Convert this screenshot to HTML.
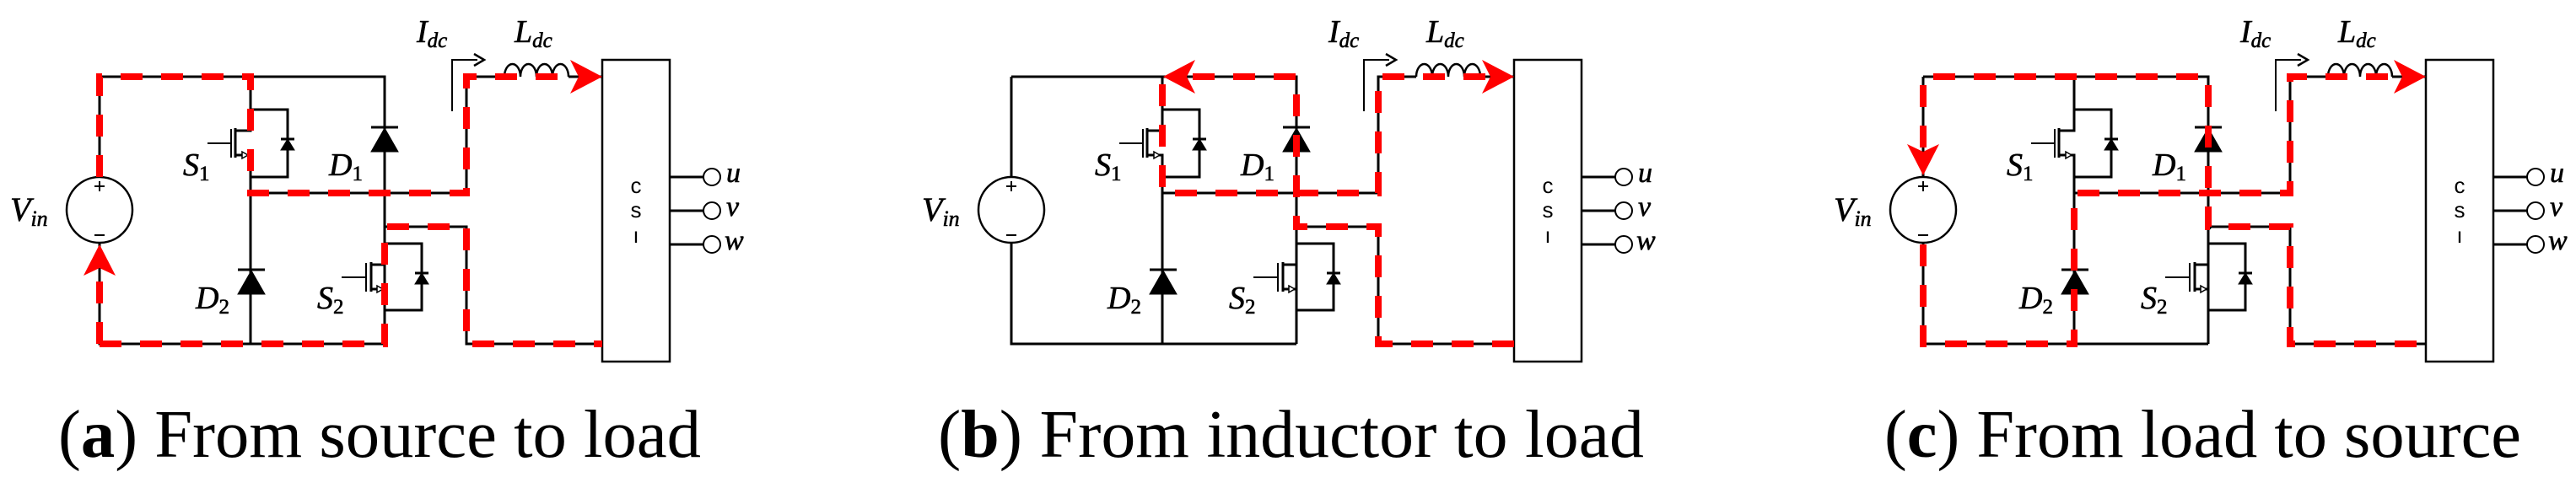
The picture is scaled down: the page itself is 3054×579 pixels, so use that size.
<!DOCTYPE html>
<html><head><meta charset="utf-8"><style>
html,body{margin:0;padding:0;background:#fff;}
svg{display:block;}
.t{font-family:"Liberation Serif",serif;font-style:italic;fill:#000;stroke:#000;stroke-width:0.6;}
.c{font-family:"Liberation Serif",serif;fill:#000;}
.s{font-family:"Liberation Sans",sans-serif;fill:#000;}
</style></head><body>
<svg width="3054" height="579" viewBox="0 0 3054 579" xmlns="http://www.w3.org/2000/svg">
<defs>
<g id="circ" fill="none" stroke="#000" stroke-width="3">
  <path d="M118 91 V210 M118 288 V408 H456"/>
  <ellipse cx="118" cy="249" rx="39" ry="39" stroke-width="2.5"/>
  <path d="M112 221 h12 M118 215 v12 M112 279 h12" stroke-width="2"/>
  <path d="M118 91 H456 V408"/>
  <path d="M297 91 V155 H279 M279 152 V187 M279 184 H297 V408"/>
  <path d="M274 153 V187 M246 170 H274" stroke-width="2"/>
  <path d="M287 180 l7 4 l-7 4 z" stroke-width="1.5" fill="#fff"/>
  <path d="M297 130 H341 V210 H297"/>
  <path d="M333 165 H349" />
  <path d="M341 165 L333 178 H349 Z" fill="#000" stroke-width="1"/>
  <path d="M440 151 H472"/>
  <path d="M456 152 L440 180 H472 Z" fill="#000" stroke-width="1"/>
  <path d="M282 320 H314"/>
  <path d="M298 321 L282 349 H314 Z" fill="#000" stroke-width="1"/>
  <path d="M297 229 H553 V91 H598 M674 91 H714"/>
  <path d="M456 269 H553 V408 H714"/>
  <path d="M456 269 V314 H440 M440 311 V346 M440 343 H456"/>
  <path d="M434 312 V346 M405 329 H434" stroke-width="2"/>
  <path d="M447 339 l7 4 l-7 4 z" stroke-width="1.5" fill="#fff"/>
  <path d="M456 289 H500 V368 H456"/>
  <path d="M492 324 H508"/>
  <path d="M500 324 L492 337 H508 Z" fill="#000" stroke-width="1"/>
  <path d="M598 91 a9.5 15 0 0 1 19 0 a9.5 15 0 0 1 19 0 a9.5 15 0 0 1 19 0 a9.5 15 0 0 1 19 0" stroke-width="2.5"/>
  <path d="M536 132 V71 H566" stroke-width="2"/>
  <path d="M562 64 L574 71 L562 78" stroke-width="2.5"/>
  <rect x="714" y="71" width="80" height="358" stroke-width="2.5"/>
  <path d="M794 210 H834 M794 250 H834 M794 290 H834"/>
  <circle cx="844" cy="210" r="10" stroke-width="2"/>
  <circle cx="844" cy="250" r="10" stroke-width="2"/>
  <circle cx="844" cy="290" r="10" stroke-width="2"/>
</g>
</defs>

<g>
<use href="#circ"/>
<g fill="none" stroke="#f00" stroke-width="8" stroke-dasharray="26 22">
  <path d="M118 210 V91 H297 V229 H553 V91 H680"/>
  <path d="M118 408 V330"/>
  <path d="M118 408 H456 V269 H553 V408 H714"/>
</g>
<path d="M714 91 L676 71 L686 91 L676 111 Z" fill="#f00"/>
<path d="M118 290 L99 327 L118 318 L137 327 Z" fill="#f00"/>
</g>

<g transform="translate(1081,0)">
<use href="#circ"/>
<circle cx="456" cy="269" r="4" fill="#000"/>
<g fill="none" stroke="#f00" stroke-width="8" stroke-dasharray="26 22">
  <path d="M714 408 H553 V269 H456 V91 H330"/>
  <path d="M297 100 V229 H553 V91 H680"/>
</g>
<path d="M714 91 L676 71 L686 91 L676 111 Z" fill="#f00"/>
<path d="M298 91 L336 71 L326 91 L336 111 Z" fill="#f00"/>
</g>

<g transform="translate(2162,0)">
<use href="#circ"/>
<circle cx="456" cy="269" r="4" fill="#000"/>
<g fill="none" stroke="#f00" stroke-width="8" stroke-dasharray="26 22">
  <path d="M118 175 V91 H456 V269 H553 V408 H714"/>
  <path d="M118 290 V408 H297 V229 H553 V91 H680"/>
</g>
<path d="M714 91 L676 71 L686 91 L676 111 Z" fill="#f00"/>
<path d="M118 208 L99 171 L118 180 L137 171 Z" fill="#f00"/>
</g>

<g>
<text class="t" x="12" y="262" font-size="40">V<tspan font-size="26" dy="6">in</tspan></text>
<text class="t" x="217" y="208" font-size="38">S<tspan font-size="25" dy="6" font-style="normal">1</tspan></text>
<text class="t" x="390" y="208" font-size="38">D<tspan font-size="25" dy="6" font-style="normal">1</tspan></text>
<text class="t" x="232" y="366" font-size="38">D<tspan font-size="25" dy="6" font-style="normal">2</tspan></text>
<text class="t" x="376" y="366" font-size="38">S<tspan font-size="25" dy="6" font-style="normal">2</tspan></text>
<text class="t" x="494" y="50" font-size="38">I<tspan font-size="25" dy="6">dc</tspan></text>
<text class="t" x="610" y="50" font-size="38">L<tspan font-size="25" dy="6">dc</tspan></text>
<text class="t" x="861" y="216" font-size="34">u</text>
<text class="t" x="861" y="256" font-size="34">v</text>
<text class="t" x="859" y="296" font-size="34">w</text>
<text class="s" x="754" y="229" font-size="26" text-anchor="middle">c</text>
<text class="s" x="754" y="258" font-size="26" text-anchor="middle">s</text>
<text class="s" x="754" y="288" font-size="26" text-anchor="middle">ı</text>
<text class="c" x="69" y="542" font-size="80" textLength="762" lengthAdjust="spacingAndGlyphs">(<tspan font-weight="bold">a</tspan>) From source to load</text>
</g>
<g transform="translate(1081,0)">
<text class="t" x="12" y="262" font-size="40">V<tspan font-size="26" dy="6">in</tspan></text>
<text class="t" x="217" y="208" font-size="38">S<tspan font-size="25" dy="6" font-style="normal">1</tspan></text>
<text class="t" x="390" y="208" font-size="38">D<tspan font-size="25" dy="6" font-style="normal">1</tspan></text>
<text class="t" x="232" y="366" font-size="38">D<tspan font-size="25" dy="6" font-style="normal">2</tspan></text>
<text class="t" x="376" y="366" font-size="38">S<tspan font-size="25" dy="6" font-style="normal">2</tspan></text>
<text class="t" x="494" y="50" font-size="38">I<tspan font-size="25" dy="6">dc</tspan></text>
<text class="t" x="610" y="50" font-size="38">L<tspan font-size="25" dy="6">dc</tspan></text>
<text class="t" x="861" y="216" font-size="34">u</text>
<text class="t" x="861" y="256" font-size="34">v</text>
<text class="t" x="859" y="296" font-size="34">w</text>
<text class="s" x="754" y="229" font-size="26" text-anchor="middle">c</text>
<text class="s" x="754" y="258" font-size="26" text-anchor="middle">s</text>
<text class="s" x="754" y="288" font-size="26" text-anchor="middle">ı</text>
<text class="c" x="31" y="542" font-size="80" textLength="837" lengthAdjust="spacingAndGlyphs">(<tspan font-weight="bold">b</tspan>) From inductor to load</text>
</g>
<g transform="translate(2162,0)">
<text class="t" x="12" y="262" font-size="40">V<tspan font-size="26" dy="6">in</tspan></text>
<text class="t" x="217" y="208" font-size="38">S<tspan font-size="25" dy="6" font-style="normal">1</tspan></text>
<text class="t" x="390" y="208" font-size="38">D<tspan font-size="25" dy="6" font-style="normal">1</tspan></text>
<text class="t" x="232" y="366" font-size="38">D<tspan font-size="25" dy="6" font-style="normal">2</tspan></text>
<text class="t" x="376" y="366" font-size="38">S<tspan font-size="25" dy="6" font-style="normal">2</tspan></text>
<text class="t" x="494" y="50" font-size="38">I<tspan font-size="25" dy="6">dc</tspan></text>
<text class="t" x="610" y="50" font-size="38">L<tspan font-size="25" dy="6">dc</tspan></text>
<text class="t" x="861" y="216" font-size="34">u</text>
<text class="t" x="861" y="256" font-size="34">v</text>
<text class="t" x="859" y="296" font-size="34">w</text>
<text class="s" x="754" y="229" font-size="26" text-anchor="middle">c</text>
<text class="s" x="754" y="258" font-size="26" text-anchor="middle">s</text>
<text class="s" x="754" y="288" font-size="26" text-anchor="middle">ı</text>
<text class="c" x="72" y="542" font-size="80" textLength="755" lengthAdjust="spacingAndGlyphs">(<tspan font-weight="bold">c</tspan>) From load to source</text>
</g>
</svg>
</body></html>
